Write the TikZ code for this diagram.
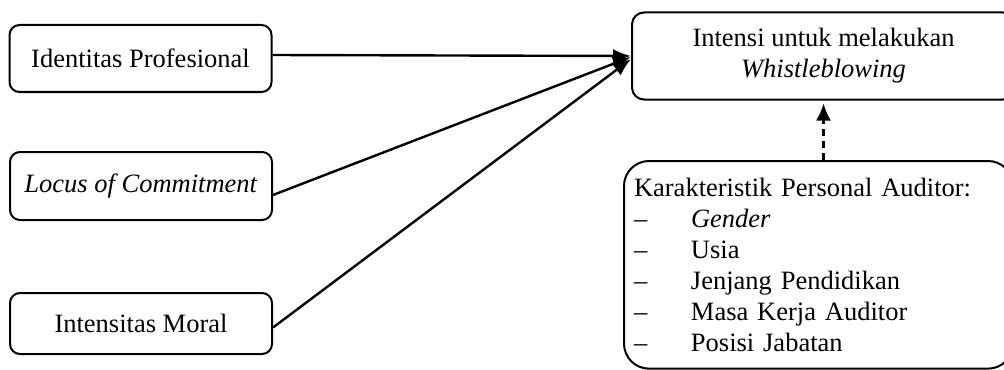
\documentclass[tikz,border=0pt]{standalone}
\usepackage{fontspec}
\setmainfont{Liberation Serif}
\usetikzlibrary{arrows.meta}
\begin{document}
\begin{tikzpicture}[x=0.5pt,y=-0.5pt,
  every node/.style={font=\fontsize{13.25}{15.5}\selectfont},
  varbox/.style={draw, line width=1pt, rounded corners=5pt, minimum width=131pt, inner sep=0pt, align=center},
  link/.style={line width=1.2pt, -{Latex[length=9pt,width=7pt]}},
  modlink/.style={line width=1.2pt, dash pattern=on 3.5pt off 2.5pt, -{Latex[length=8.5pt,width=7.5pt]}}]
\useasboundingbox (0,0) rectangle (1004,369);
\clip (0,0) rectangle (1004,369);
\node[varbox, minimum height=33.5pt] (ip) at (140.5,58.5) {Identitas Profesional};
\node[varbox, minimum height=34pt] (lc) at (141,186) {\textit{Locus of Commitment}};
\node[varbox, minimum height=30.5pt] (im) at (141,323.5) {Intensitas Moral};
\node[varbox, rounded corners=6pt, minimum width=191.5pt, minimum height=43.5pt] (iw) at (823.5,56)
  {Intensi untuk melakukan\\\textit{Whistleblowing}};
\node[draw, line width=1pt, rounded corners=12.5pt, anchor=north west, text width=184.5pt,
  inner xsep=5pt, inner ysep=8.5pt, align=left] (kp) at (623,160)
  {Karakteristik Personal Auditor:\\
   \makebox[28.5pt][l]{--}\textit{Gender}\\
   \makebox[28.5pt][l]{--}Usia\\
   \makebox[28.5pt][l]{--}Jenjang Pendidikan\\
   \makebox[28.5pt][l]{--}Masa Kerja Auditor\\
   \makebox[28.5pt][l]{--}Posisi Jabatan};
\draw[link] ([yshift=1.75pt]ip.east) -- (iw.west);
\draw[link] ([yshift=-4.5pt]lc.east) -- ([yshift=-0.5pt]iw.west);
\draw[link] ([yshift=-2pt]im.east) -- ([yshift=-1.5pt]iw.west);
\draw[modlink, shorten >=1.5pt] (iw.south |- kp.north) -- (iw.south);
\end{tikzpicture}
\end{document}
